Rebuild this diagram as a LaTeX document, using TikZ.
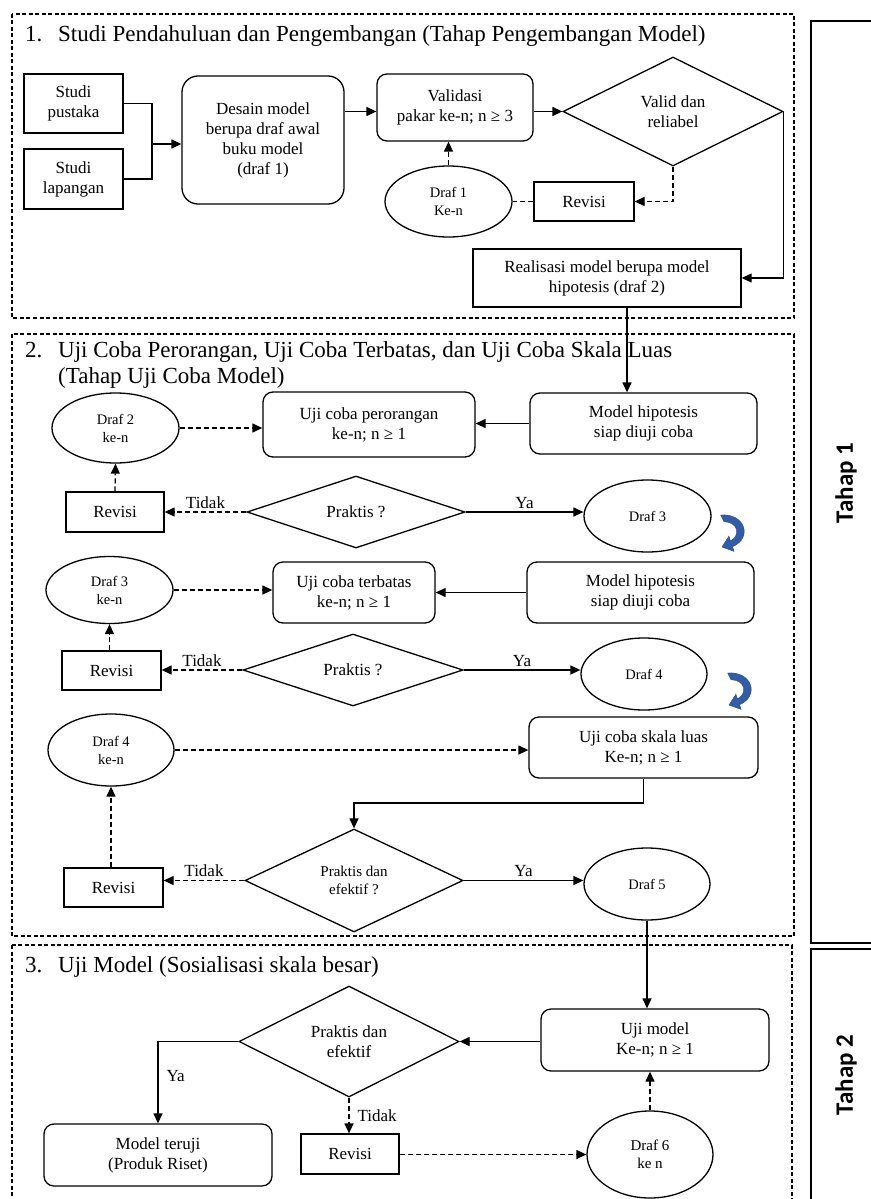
\documentclass[tikz,border=0pt]{standalone}
\usepackage{fontspec}
\setmainfont{Liberation Serif}
\newfontfamily\tahapfont{Carlito}
\usetikzlibrary{shapes.geometric,arrows.meta}
\newcommand\fsz[2]{\fontsize{#1}{#2}\selectfont}
\definecolor{bluearr}{RGB}{50,92,165}
\tikzset{
 shp/.style={draw, line width=1.3pt, inner sep=0pt, align=center, font=\fsz{17}{20}},
 rbox/.style={shp, rectangle, rounded corners=10pt},
 sbox/.style={shp, rectangle},
 ell/.style={shp, ellipse, font=\fsz{14.5}{18}},
 dia/.style={shp, diamond, shape aspect=2},
 con/.style={line width=1.3pt, -{Triangle[length=10pt,width=9pt]}},
 dcon/.style={con, dash pattern=on 5pt off 3pt},
 dline/.style={line width=1.3pt, dash pattern=on 5pt off 3pt},
 frame/.style={line width=1.2pt, dash pattern=on 4pt off 2.5pt},
 lbl/.style={font=\fsz{17}{20}, inner sep=3pt},
 title/.style={font=\fsz{23}{26}, inner sep=0pt, anchor=base west},
 tahap/.style={font=\tahapfont\bfseries\fsz{25}{28}, rotate=90, inner sep=0pt},
 curvedarrow/.style={fill=bluearr, draw=bluearr!80!black, line width=0.4pt},
}
\begin{document}
\begin{tikzpicture}[x=1pt,y=-1pt]
\useasboundingbox (0,0) rectangle (870,1199);

% ---------- frames ----------
\draw[frame] (12,14) rectangle (794,318);
\draw[frame] (12,334) rectangle (794,936);
\draw[frame] (12,945) rectangle (792,1210);
\draw[line width=1.2pt] (880,21) -- (811,21) -- (811,943) -- (880,943);
\draw[line width=1.2pt] (880,949) -- (811,949) -- (811,1210);
\node[tahap] (tahap1) at (846,483) {Tahap 1};
\node[tahap] (tahap2) at (846,1075) {Tahap 2};

% ---------- titles ----------
\node[title] (t1) at (25,42) {\makebox[33pt][l]{1.}Studi Pendahuluan dan Pengembangan (Tahap Pengembangan Model)};
\node[title] (t2a) at (25,357) {\makebox[33pt][l]{2.}Uji Coba Perorangan, Uji Coba Terbatas, dan Uji Coba Skala Luas};
\node[title] (t2b) at (58,383) {(Tahap Uji Coba Model)};
\node[title] (t3) at (25,972) {\makebox[33pt][l]{3.}Uji Model (Sosialisasi skala besar)};

% ---------- section 1 ----------
\node[sbox, minimum width=99pt, minimum height=59pt] (sp) at (73.5,103.5) {Studi\\pustaka};
\node[sbox, minimum width=99pt, minimum height=60pt] (sl) at (73.5,179) {Studi\\lapangan};
\node[rbox, rounded corners=16pt, minimum width=162pt, minimum height=128pt] (des) at (263,140) {Desain model\\berupa draf awal\\buku model\\(draf 1)};
\node[rbox, minimum width=156pt, minimum height=67pt] (val) at (455,107.5) {Validasi\\pakar ke-n; n ≥ 3};
\node[dia, minimum width=220pt, minimum height=109pt] (vd) at (673,111.5) {Valid dan\\reliabel};
\node[sbox, minimum width=100pt, minimum height=39pt] (rev1) at (584,201.5) {Revisi};
\node[ell, minimum width=127pt, minimum height=71pt] (d1) at (448.5,201.5) {Draf 1\\Ke-n};
\node[sbox, minimum width=268pt, minimum height=58pt] (real) at (607,278) {Realisasi model berupa model\\hipotesis (draf 2)};

\coordinate (j1) at (152,144);
\draw[line width=1.3pt] (sp.east) -| (j1);
\draw[line width=1.3pt] (sl.east) -| (j1);
\draw[con] (j1) -- (j1 -| des.west);
\draw[con] (des.east |- vd.west) -- (val.west |- vd.west);
\draw[con] (val.east |- vd.west) -- (vd.west);
\draw[dcon] (vd.south) |- (rev1.east);
\draw[dline] (rev1.west) -- (d1.east);
\draw[dcon] (d1.north) -- (d1.north |- val.south);
\draw[con] (vd.east) |- (real.east);

% ---------- section 2 ----------
\node[ell, minimum width=127pt, minimum height=70pt] (d2) at (115.5,428) {Draf 2\\ke-n};
\node[rbox, minimum width=212pt, minimum height=65pt] (uper) at (369,424.5) {Uji coba perorangan\\ke-n; n ≥ 1};
\node[rbox, minimum width=227pt, minimum height=61pt] (hip1) at (643.5,423.5) {Model hipotesis\\siap diuji coba};
\node[sbox, minimum width=98pt, minimum height=40pt] (rev2) at (115,512) {Revisi};
\node[dia, minimum width=218pt, minimum height=72pt] (pr1) at (356,512) {Praktis ?};
\node[ell, minimum width=127pt, minimum height=72pt] (d3) at (647.5,516) {Draf 3};

\node[ell, minimum width=127pt, minimum height=67pt] (d3n) at (109.5,590) {Draf 3\\ke-n};
\node[rbox, minimum width=162pt, minimum height=61pt] (uter) at (354,592.5) {Uji coba terbatas\\ke-n; n ≥ 1};
\node[rbox, minimum width=227pt, minimum height=61pt] (hip2) at (640.5,592.5) {Model hipotesis\\siap diuji coba};
\node[sbox, minimum width=99pt, minimum height=39pt] (rev3) at (111.5,670.5) {Revisi};
\node[dia, minimum width=220pt, minimum height=72pt] (pr2) at (353,670) {Praktis ?};
\node[ell, minimum width=126pt, minimum height=72pt] (d4) at (644,674) {Draf 4};

\node[ell, minimum width=126pt, minimum height=72pt] (d4n) at (111,750) {Draf 4\\ke-n};
\node[rbox, minimum width=229pt, minimum height=61pt] (usl) at (643.5,747.5) {Uji coba skala luas\\Ke-n; n ≥ 1};
\node[dia, minimum width=218pt, minimum height=103pt, font=\fsz{15}{18}] (pe1) at (354,880.5) {Praktis dan\\efektif ?};
\node[sbox, minimum width=99pt, minimum height=39pt] (rev4) at (113.5,887.5) {Revisi};
\node[ell, minimum width=126pt, minimum height=72pt] (d5) at (647,884) {Draf 5};

\coordinate (c1) at (627,307);
\draw[con] (c1) -- (c1 |- hip1.north);
\draw[dcon] (d2.east) -- (uper.west |- d2.east);
\draw[con] (hip1.west) -- (uper.east |- hip1.west);
\draw[dcon] (rev2.north) -- (d2.south);
\draw[dcon] (pr1.west) -- node[lbl, above] (tk1) {Tidak} (rev2.east);
\draw[con] (pr1.east) -- node[lbl, above] (ya1) {Ya} (d3.west |- pr1.east);

\draw[dcon] (d3n.east) -- (uter.west |- d3n.east);
\draw[con] (hip2.west) -- (uter.east |- hip2.west);
\draw[dcon] (d3n.south |- rev3.north) -- (d3n.south);
\draw[dcon] (pr2.west) -- node[lbl, above] (tk2) {Tidak} (rev3.east |- pr2.west);
\draw[con] (pr2.east) -- node[lbl, above] (ya2) {Ya} (d4.west |- pr2.east);

\draw[dcon] (d4n.east) -- (usl.west |- d4n.east);
\coordinate (j2) at (354,803);
\draw[con] (usl.south) |- (j2) -- (pe1.north);
\draw[dcon] (pe1.west) -- node[lbl, above] (tk3) {Tidak} (rev4.east |- pe1.west);
\draw[dcon] (d4n.south |- rev4.north) -- (d4n.south);
\draw[con] (pe1.east) -- node[lbl, above] (ya3) {Ya} (d5.west |- pe1.east);

% blue curved arrows
\fill[curvedarrow] (720.7,515) .. controls (745,513) and (753,538) .. (732.5,546.7)
  -- (734.1,551.4) -- (722,547) -- (728.9,536.2) -- (730.5,541)
  .. controls (741,535) and (738,522) .. (724,521.7) -- cycle;
\begin{scope}[shift={(7,158)}]
\fill[curvedarrow] (720.7,515) .. controls (745,513) and (753,538) .. (732.5,546.7)
  -- (734.1,551.4) -- (722,547) -- (728.9,536.2) -- (730.5,541)
  .. controls (741,535) and (738,522) .. (724,521.7) -- cycle;
\end{scope}

% ---------- section 3 ----------
\node[rbox, minimum width=228pt, minimum height=62pt] (um) at (655,1040) {Uji model\\Ke-n; n ≥ 1};
\node[dia, minimum width=220pt, minimum height=111pt] (pe2) at (349,1041.5) {Praktis dan\\efektif};
\node[rbox, minimum width=228pt, minimum height=62pt] (mt) at (158,1155) {Model teruji\\(Produk Riset)};
\node[sbox, minimum width=98pt, minimum height=40pt] (rev5) at (350,1154) {Revisi};
\node[ell, font=\fsz{15}{18}, minimum width=126pt, minimum height=87pt] (d6) at (650,1154.5) {Draf 6\\ke n};

\draw[con] (d5.south) -- (d5.south |- um.north);
\draw[con] (um.west |- pe2.east) -- (pe2.east);
\draw[con] (pe2.west) -| node[lbl, right=5pt, pos=0.71] (ya4) {Ya} (mt.north);
\draw[dcon] (pe2.south) -- node[lbl, right=5pt] (tk4) {Tidak} (pe2.south |- rev5.north);
\draw[dcon] (rev5.east |- d6.west) -- (d6.west);
\draw[dcon] (d6.north) -- (d6.north |- um.south);
\end{tikzpicture}
\end{document}
